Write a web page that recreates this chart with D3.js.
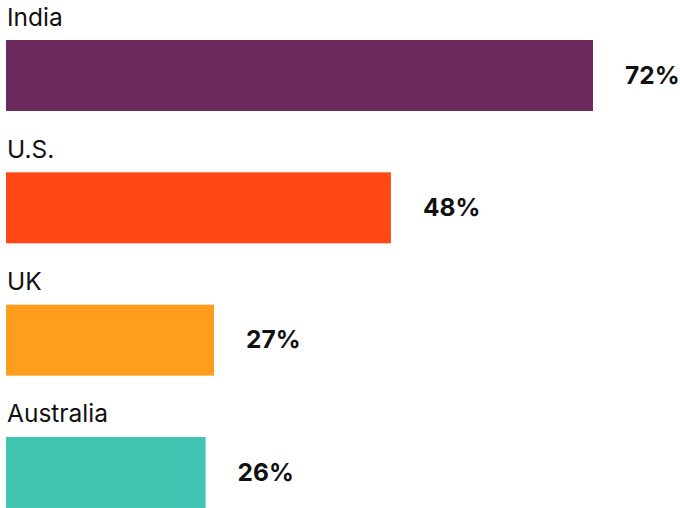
<!DOCTYPE html>
<html><head><meta charset="utf-8">
<script src="https://cdn.jsdelivr.net/npm/d3@7/dist/d3.min.js"></script>
<style>body{margin:0;background:#fff}svg{display:block}</style>
</head><body>
<svg id="chart" width="680" height="508"></svg>
<script>
const categories = ["India", "U.S.", "UK", "Australia"];
const values = [72, 48, 27, 26];
const valueLabels = ["72%", "48%", "27%", "26%"];
const colors = ["#6b2b5f", "#ff4816", "#ff9e1c", "#42c4b3"];

const svg = d3.select("#chart");
const x = d3.scaleLinear().domain([2.3, 72]).range([6, 593]);
const y = d3.scaleBand().domain(categories).range([0, 529.3]).paddingInner(0);

const g = svg.selectAll("g.row").data(categories).enter().append("g").attr("class", "row");

g.append("rect")
  .attr("x", x.range()[0])
  .attr("y", d => y(d) + 40)
  .attr("width", (d, i) => x(values[i]) - x.range()[0])
  .attr("height", 71)
  .attr("fill", (d, i) => colors[i]);

g.append("text")
  .attr("x", 7)
  .attr("y", d => y(d) + 25.5)
  .attr("font-family", "Inter, Roboto, sans-serif")
  .attr("font-size", 24.5)
  .attr("fill", "#111")
  .text(d => d);

g.append("text")
  .attr("x", (d, i) => x(values[i]) + 32)
  .attr("y", d => y(d) + 77)
  .attr("dominant-baseline", "middle")
  .attr("font-family", "Inter, Roboto, sans-serif")
  .attr("font-weight", "bold")
  .attr("font-size", 24.5)
  .attr("fill", "#111")
  .text((d, i) => valueLabels[i]);
</script>
</body></html>
